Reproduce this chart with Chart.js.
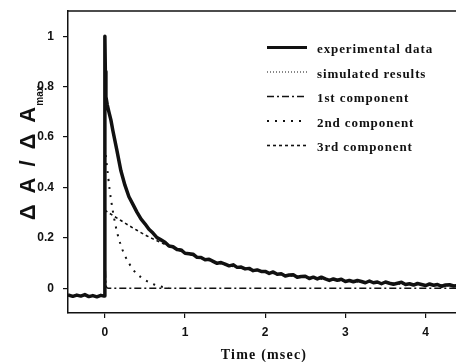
<!DOCTYPE html>
<html>
<head>
<meta charset="utf-8">
<title>Normalised absorbance decay</title>
<script src="https://cdn.jsdelivr.net/npm/chart.js@4.4.1/dist/chart.umd.min.js"></script>
<style>
  html, body { margin: 0; padding: 0; background: #fff; }
  #wrap { width: 456px; height: 362px; }
</style>
</head>
<body>
<div id="wrap"><canvas id="decay-chart" width="456" height="362"></canvas></div>
<script>
// axis ticks
const xTicks = [0, 1, 2, 3, 4];
const yTicks = [0, 0.2, 0.4, 0.6, 0.8, 1];

const seriesLabels = ['experimental data', 'simulated results', '1st component', '2nd component', '3rd component'];

// experimental trace, time in msec / normalised dA
const expTime = [
  -0.46, -0.40, -0.35, -0.30, -0.25, -0.20, -0.15, -0.10, -0.05, -0.01,
  0, 0.006, 0.013, 0.03, 0.05, 0.075,
  0.10, 0.15, 0.20, 0.25, 0.30, 0.35, 0.40, 0.45, 0.50, 0.55,
  0.60, 0.65, 0.70, 0.75, 0.80, 0.85, 0.90, 0.95, 1.00, 1.05,
  1.10, 1.15, 1.20, 1.25, 1.30, 1.35, 1.40, 1.45, 1.50, 1.55,
  1.60, 1.65, 1.70, 1.75, 1.80, 1.85, 1.90, 1.95, 2.00, 2.05,
  2.10, 2.15, 2.20, 2.25, 2.30, 2.35, 2.40, 2.45, 2.50, 2.55,
  2.60, 2.65, 2.70, 2.75, 2.80, 2.85, 2.90, 2.95, 3.00, 3.05,
  3.10, 3.15, 3.20, 3.25, 3.30, 3.35, 3.40, 3.45, 3.50, 3.55,
  3.60, 3.65, 3.70, 3.75, 3.80, 3.85, 3.90, 3.95, 4.00, 4.05,
  4.10, 4.15, 4.20, 4.25, 4.30, 4.35, 4.40
];
const expValue = [
  -0.026, -0.032, -0.027, -0.031, -0.025, -0.033, -0.029, -0.034, -0.028, -0.031,
  1.0, 0.86, 0.76, 0.728, 0.70, 0.668,
  0.625, 0.547, 0.466, 0.409, 0.363, 0.333, 0.302, 0.275, 0.256, 0.234,
  0.219, 0.201, 0.192, 0.183, 0.168, 0.165, 0.154, 0.152, 0.139, 0.137,
  0.135, 0.123, 0.122, 0.113, 0.115, 0.107, 0.099, 0.102, 0.096, 0.089,
  0.093, 0.083, 0.084, 0.077, 0.079, 0.070, 0.073, 0.067, 0.067, 0.059,
  0.065, 0.056, 0.058, 0.049, 0.053, 0.054, 0.044, 0.047, 0.048, 0.039,
  0.044, 0.037, 0.044, 0.037, 0.031, 0.037, 0.032, 0.036, 0.027, 0.031,
  0.026, 0.031, 0.027, 0.022, 0.029, 0.022, 0.025, 0.018, 0.025, 0.020,
  0.016, 0.020, 0.024, 0.015, 0.018, 0.013, 0.019, 0.015, 0.011, 0.017,
  0.012, 0.015, 0.008, 0.013, 0.014, 0.009, 0.011
];

// simulated sum of the three components
const simTime = [0, 0.01, 0.02, 0.05, 0.1, 0.15, 0.2, 0.25, 0.3, 0.4, 0.5, 0.6, 0.8, 1.0, 1.25, 1.5, 2, 2.5, 3, 3.5, 4, 4.4];
const simValue = [1.0, 0.82, 0.76, 0.70, 0.622, 0.545, 0.466, 0.406, 0.363, 0.302, 0.254, 0.218, 0.170, 0.141, 0.116, 0.094, 0.064, 0.043, 0.029, 0.020, 0.014, 0.010];

// fast component - gone almost at once, then sits on zero
const comp1Time = [0, 0.01, 0.02, 0.04, 4.4];
const comp1Value = [0.13, 0.03, 0.005, 0, 0];

const comp2Time = [0, 0.02, 0.04, 0.06, 0.08, 0.1, 0.125, 0.15, 0.2, 0.25, 0.3, 0.35, 0.4, 0.5, 0.6, 0.7, 0.8];
const comp2Value = [0.56, 0.50, 0.445, 0.39, 0.345, 0.305, 0.262, 0.225, 0.17, 0.13, 0.10, 0.075, 0.057, 0.033, 0.017, 0.007, 0.002];

const comp3Time = [0, 0.1, 0.2, 0.3, 0.4, 0.5, 0.6, 0.7, 0.8, 1.0, 1.25, 1.5, 2, 2.5, 3, 3.5, 4, 4.4];
const comp3Value = [0.31, 0.289, 0.269, 0.249, 0.230, 0.212, 0.196, 0.181, 0.167, 0.141, 0.115, 0.094, 0.064, 0.044, 0.030, 0.021, 0.014, 0.010];

const ink = '#111111';
const toPoints = (xs, ys) => xs.map((x, i) => ({ x: x, y: ys[i] }));

// frame top edge, legend and axis titles (the y title needs a subscript)
const chromePlugin = {
    id: 'chrome',
    afterDraw(chart) {
        const { ctx, chartArea } = chart;
        ctx.save();
        ctx.strokeStyle = ink;
        ctx.fillStyle = ink;

        ctx.lineWidth = 1.5;
        ctx.beginPath();
        ctx.moveTo(chartArea.left, chartArea.top);
        ctx.lineTo(chartArea.right, chartArea.top);
        ctx.stroke();

        // legend
        ctx.font = 'bold 13px "Liberation Serif"';
        ctx.textBaseline = 'middle';
        ctx.textAlign = 'left';
        if ('letterSpacing' in ctx) ctx.letterSpacing = '0.9px';
        chart.data.datasets.forEach((ds, i) => {
            const y = 47.5 + i * 24.5;
            ctx.setLineDash(ds.borderDash || []);
            ctx.lineWidth = Math.min(ds.borderWidth, 3);
            ctx.beginPath();
            ctx.moveTo(267, y);
            ctx.lineTo(307, y);
            ctx.stroke();
            ctx.setLineDash([]);
            ctx.fillText(ds.label, 317, y + 2.5);
        });

        // x title
        ctx.font = 'bold 14px "Liberation Serif"';
        if ('letterSpacing' in ctx) ctx.letterSpacing = '1.2px';
        ctx.textAlign = 'center';
        ctx.fillText('Time (msec)', (chartArea.left + chartArea.right) / 2 + 2, 355);

        // y title, rotated, drawn piece by piece with wide gaps
        if ('letterSpacing' in ctx) ctx.letterSpacing = '0px';
        const pieces = ['Δ', 'A', '/', 'Δ', 'A'];
        const gap = 11;
        ctx.font = 'bold 22px "Liberation Sans"';
        const widths = pieces.map(p => ctx.measureText(p).width);
        ctx.font = 'bold 10px "Liberation Sans"';
        const subW = ctx.measureText('max').width;
        const total = widths.reduce((s, w) => s + w, 0) + gap * (pieces.length - 1) + subW + 1;
        ctx.translate(35, 153);
        ctx.rotate(-Math.PI / 2);
        ctx.textAlign = 'left';
        ctx.textBaseline = 'alphabetic';
        let u = -total / 2;
        ctx.font = 'bold 22px "Liberation Sans"';
        pieces.forEach((p, i) => {
            ctx.fillText(p, u, 0);
            u += widths[i] + (i < pieces.length - 1 ? gap : 1);
        });
        ctx.font = 'bold 10px "Liberation Sans"';
        ctx.fillText('max', u, 8);
        ctx.restore();
    }
};

const tickFont = { family: 'Liberation Sans', size: 12, weight: 'bold' };

new Chart(document.getElementById('decay-chart'), {
    type: 'line',
    data: {
        datasets: [
            { label: seriesLabels[0], data: toPoints(expTime, expValue), borderColor: ink, borderWidth: 3.5, borderDash: [], borderJoinStyle: 'round', tension: 0 },
            { label: seriesLabels[1], data: toPoints(simTime, simValue), borderColor: ink, borderWidth: 1.2, borderDash: [1, 2], cubicInterpolationMode: 'monotone' },
            { label: seriesLabels[2], data: toPoints(comp1Time, comp1Value), borderColor: ink, borderWidth: 1.6, borderDash: [7, 3, 2, 3], cubicInterpolationMode: 'monotone' },
            { label: seriesLabels[3], data: toPoints(comp2Time, comp2Value), borderColor: ink, borderWidth: 2, borderDash: [2, 6], cubicInterpolationMode: 'monotone' },
            { label: seriesLabels[4], data: toPoints(comp3Time, comp3Value), borderColor: ink, borderWidth: 1.6, borderDash: [3, 3], cubicInterpolationMode: 'monotone' }
        ]
    },
    options: {
        responsive: false,
        animation: false,
        events: [],
        layout: { padding: { top: 11, right: 0, left: 0, bottom: 0 } },
        elements: { point: { radius: 0 }, line: { fill: false } },
        plugins: { legend: { display: false }, tooltip: { enabled: false } },
        scales: {
            x: {
                type: 'linear',
                min: -0.46,
                max: 4.38,
                afterBuildTicks: (scale) => { scale.ticks = xTicks.map(v => ({ value: v })); },
                afterFit: (scale) => { scale.height = 49; scale.paddingLeft = 0; scale.paddingRight = 0; },
                grid: { drawOnChartArea: false, drawTicks: true, tickLength: 5, color: ink, lineWidth: 1.2 },
                border: { display: true, color: ink, width: 1.5 },
                ticks: { color: ink, font: tickFont, padding: 7, maxRotation: 0, callback: v => String(v) }
            },
            y: {
                min: -0.098,
                max: 1.1,
                afterBuildTicks: (scale) => { scale.ticks = yTicks.map(v => ({ value: v })); },
                afterFit: (scale) => { scale.width = 68; scale.paddingTop = 0; scale.paddingBottom = 0; },
                grid: { drawOnChartArea: false, drawTicks: true, tickLength: 5, color: ink, lineWidth: 1.2 },
                border: { display: true, color: ink, width: 1.5 },
                ticks: { color: ink, font: tickFont, padding: 9, callback: v => String(v) }
            }
        }
    },
    plugins: [chromePlugin]
});
</script>
</body>
</html>
